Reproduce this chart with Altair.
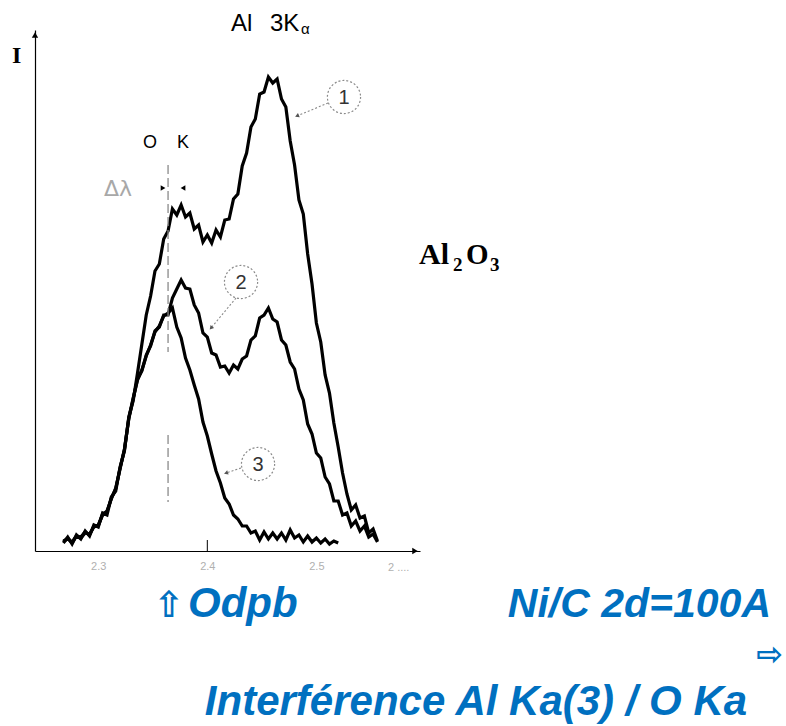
import altair as alt
import pandas as pd

# ---------------- data ----------------
WAVELENGTH = [2.268, 2.272, 2.276, 2.280, 2.284, 2.288, 2.292, 2.296, 2.300, 2.304,
              2.308, 2.312, 2.316, 2.320, 2.324, 2.328, 2.332, 2.336, 2.340, 2.344,
              2.348, 2.352, 2.356, 2.360, 2.364, 2.368, 2.372, 2.376, 2.380, 2.384,
              2.388, 2.392, 2.396, 2.400, 2.404, 2.408, 2.412, 2.416, 2.420, 2.424,
              2.428, 2.432, 2.436, 2.440, 2.444, 2.448, 2.452, 2.456, 2.460, 2.464,
              2.468, 2.472, 2.476, 2.480, 2.484, 2.488, 2.492, 2.496, 2.500, 2.504,
              2.508, 2.512, 2.516, 2.520, 2.524, 2.528, 2.532, 2.536, 2.540, 2.544,
              2.548, 2.552, 2.556]

CURVE_1 = [8, 14, 7, 16, 12, 20, 15, 26, 24, 38,
           36, 54, 60, 84, 100, 134, 150, 178, 207, 236,
           255, 280, 287, 312, 320, 342, 336, 346, 334, 338,
           322, 326, 309, 316, 308, 321, 314, 331, 332, 352,
           357, 385, 398, 424, 432, 457, 459, 474, 468, 472,
           452, 444, 410, 386, 351, 337, 297, 267, 228, 209,
           176, 158, 128, 104, 78, 57, 41, 46, 33, 35,
           18, 22, 10]

CURVE_2 = [10, 12, 9, 15, 13, 18, 17, 24, 26, 36,
           40, 52, 63, 82, 102, 132, 152, 172, 180, 196,
           205, 220, 224, 236, 236, 253, 262, 271, 263, 262,
           246, 238, 218, 214, 198, 196, 184, 185, 178, 186,
           182, 192, 195, 211, 215, 233, 236, 243, 232, 229,
           211, 206, 189, 182, 162, 151, 127, 117, 98, 93,
           74, 67, 50, 50, 36, 38, 25, 30, 20, 25,
           14, 17, 9]

CURVE_3 = [9, 13, 8, 15, 14, 19, 16, 25, 25, 37,
           39, 53, 62, 83, 101, 133, 153, 171, 181, 195,
           206, 219, 225, 235, 238, 243, 224, 213, 193, 181,
           166, 152, 129, 115, 97, 80, 68, 53, 47, 36,
           32, 25, 25, 18, 20, 11, 19, 12, 18, 12,
           18, 11, 21, 13, 16, 9, 15, 9, 13, 8,
           12, 7, 10, 8]

TICK_LABELS = [2.3, 2.4, 2.5]
MAJOR_TICK = 2.4
OK_LINE = 2.364
OK_SEGMENTS = [(386, 199), (116, 49)]

CIRCLE_LABELS = ["1", "2", "3"]
CIRCLE_WL = [2.5253, 2.4309, 2.4465]
CIRCLE_I = [454, 269, 87]

POINTER_FROM_WL = [2.5107, 2.4263, 2.4309]
POINTER_FROM_I = [448, 253, 83]
POINTER_TO_WL = [2.4822, 2.4034, 2.4171]
POINTER_TO_I = [435, 223, 78]
POINTER_ANGLE = [247, 220, 252]

X_DOMAIN = [2.242, 2.595]
Y_DOMAIN = [0, 521]

# ---------------- tables ----------------
rows = []
for name, vals in (("1", CURVE_1), ("2", CURVE_2), ("3", CURVE_3)):
    for w, v in zip(WAVELENGTH, vals):
        rows.append({"wl": w, "I": v, "curve": name})
curves = pd.DataFrame(rows)

ok_df = pd.DataFrame({"wl": [OK_LINE] * len(OK_SEGMENTS),
                      "I": [s[0] for s in OK_SEGMENTS],
                      "I2": [s[1] for s in OK_SEGMENTS]})
circ_df = pd.DataFrame({"wl": CIRCLE_WL, "I": CIRCLE_I, "t": CIRCLE_LABELS})
ptr_df = pd.DataFrame({"wl": POINTER_FROM_WL, "I": POINTER_FROM_I,
                       "wl2": POINTER_TO_WL, "I2": POINTER_TO_I,
                       "ang": POINTER_ANGLE})
tick_df = pd.DataFrame({"wl": [MAJOR_TICK], "I": [0], "I2": [11]})
yarrow_df = pd.DataFrame({"wl": [X_DOMAIN[0]], "I": [516]})
xarrow_df = pd.DataFrame({"wl": [2.5904], "I": [0]})
dl_df = pd.DataFrame({"wl": [2.3594, 2.3777], "I": [363, 363],
                      "shape": ["triangle-right", "triangle-left"]})

xs = alt.Scale(domain=X_DOMAIN, nice=False, zero=False)
ys = alt.Scale(domain=Y_DOMAIN, nice=False, zero=False)

AXX = alt.Axis(values=TICK_LABELS, ticks=False, grid=False, domainColor="black",
               domainWidth=1.2, labelColor="#b0b0b0", labelFontSize=11,
               labelPadding=9, labelFont="Liberation Sans", title=None, format=".1f")
AXY = alt.Axis(ticks=False, labels=False, grid=False, domainColor="black",
               domainWidth=1.2, title=None)


def X(field):
    return alt.X(field, type="quantitative", scale=xs, axis=AXX)


def Y(field):
    return alt.Y(field, type="quantitative", scale=ys, axis=AXY)


lines = alt.Chart(curves).mark_line(color="black", strokeWidth=3.2, strokeJoin="miter").encode(
    x=X("wl"), y=Y("I"), detail="curve:N")

ok_rule = alt.Chart(ok_df).mark_rule(color="#8a8a8a", strokeWidth=1.3, strokeDash=[9, 4]).encode(
    x=X("wl"), y=Y("I"), y2="I2:Q")

tick = alt.Chart(tick_df).mark_rule(color="black", strokeWidth=1).encode(
    x=X("wl"), y=Y("I"), y2="I2:Q")

yarrow = alt.Chart(yarrow_df).mark_point(shape="triangle-up", filled=True, color="black",
                                         size=40, opacity=1).encode(x=X("wl"), y=Y("I"))
xarrow = alt.Chart(xarrow_df).mark_point(shape="triangle-right", filled=True, color="black",
                                         size=40, opacity=1).encode(x=X("wl"), y=Y("I"))

dl_arrows = alt.Chart(dl_df).mark_point(filled=True, color="black", size=30, opacity=1).encode(
    x=X("wl"), y=Y("I"), shape=alt.Shape("shape:N", scale=None))

circles = alt.Chart(circ_df).mark_point(shape="circle", filled=False, size=1100, color="#8a8a8a",
                                        strokeWidth=1.2, strokeDash=[2, 2], opacity=1).encode(
    x=X("wl"), y=Y("I"))
circle_txt = alt.Chart(circ_df).mark_text(fontSize=20, font="Liberation Sans", color="#333333",
                                          baseline="middle", align="center", dy=1).encode(
    x=X("wl"), y=Y("I"), text="t:N")

pointers = alt.Chart(ptr_df).mark_rule(color="#8a8a8a", strokeWidth=1.1, strokeDash=[2, 2]).encode(
    x=X("wl"), y=Y("I"), x2="wl2:Q", y2="I2:Q")
pointer_heads = alt.Chart(ptr_df).mark_point(shape="triangle-up", filled=True, color="#555555",
                                             size=22, opacity=1).encode(
    x=X("wl2"), y=Y("I2"), angle=alt.Angle("ang:Q", scale=None))

ONE = pd.DataFrame({"a": [0]})


def label(t, cx, cy, size, align="left", **kw):
    return alt.Chart(ONE).mark_text(text=t, fontSize=size, align=align,
                                    baseline="alphabetic", **kw).encode(
        x=alt.value(cx - 35), y=alt.value(cy - 30))


BLUE = "#0070C0"
texts = [
    label("I", 12, 63, 24, font="Liberation Serif", fontWeight="bold", color="black"),
    label("Al", 231, 31, 24, font="Liberation Sans", color="black"),
    label("3K", 270, 31, 24, font="Liberation Sans", color="black"),
    label("α", 301, 34, 15, font="Liberation Sans", color="black"),
    label("O", 143, 148, 18, font="Liberation Sans", color="black"),
    label("K", 177, 148, 18, font="Liberation Sans", color="black"),
    label("Δλ", 104, 196, 22, font="DejaVu Sans", fontWeight="normal", color="#a8a8a8"),
    label("Al", 419, 264, 30, font="Liberation Serif", fontWeight="bold", color="black"),
    label("2", 453, 271, 19, font="Liberation Serif", fontWeight="bold", color="black"),
    label("O", 466, 264, 29, font="Liberation Serif", fontWeight="bold", color="black"),
    label("3", 490, 271, 19, font="Liberation Serif", fontWeight="bold", color="black"),
    label("2 ....", 388, 571, 11, font="Liberation Sans", color="#b0b0b0"),
    label("⇧", 184, 617, 36, align="right", font="DejaVu Sans", fontWeight="bold",
          fontStyle="italic", color=BLUE),
    label("Odpb", 188, 617, 42, font="Liberation Sans", fontWeight="bold", fontStyle="italic",
          color=BLUE),
    label("Ni/C 2d=100A", 771, 617, 41, align="right", font="Liberation Sans", fontWeight="bold",
          fontStyle="italic", color=BLUE),
    label("⇨", 783, 665, 32, align="right", font="DejaVu Sans", fontWeight="bold",
          fontStyle="italic", color=BLUE),
    label("Interférence Al Ka(3) / O Ka", 476, 715, 42, align="center", font="Liberation Sans",
          fontWeight="bold", fontStyle="italic", color=BLUE),
]

chart = alt.layer(lines, ok_rule, tick, yarrow, xarrow, dl_arrows, circles, circle_txt,
                  pointers, pointer_heads, *texts).properties(
    width=385, height=521,
    padding={"left": 35, "top": 30, "right": 366, "bottom": 175},
    autosize=alt.AutoSizeParams(type="none"),
    background="white",
).configure_view(stroke=None)

chart.save("out.html", embed_options={"renderer": "svg", "actions": False})
